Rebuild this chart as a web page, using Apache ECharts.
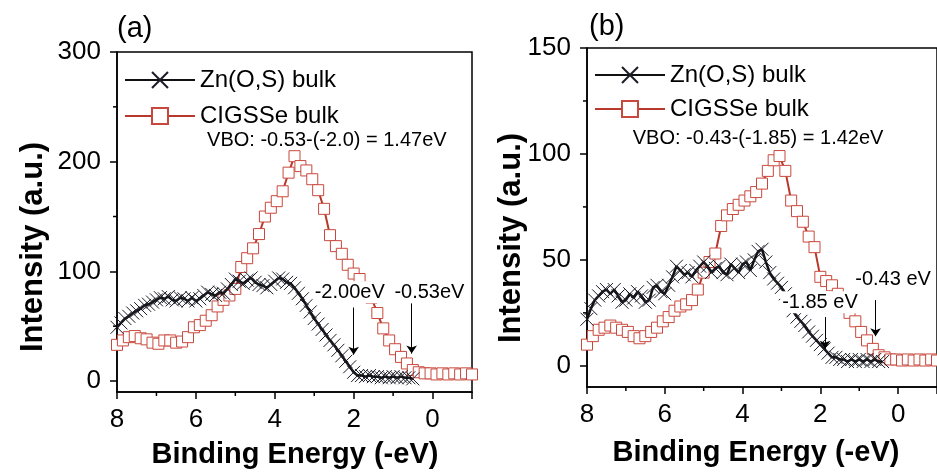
<!DOCTYPE html>
<html><head><meta charset="utf-8">
<script src="https://cdn.jsdelivr.net/npm/echarts@6/dist/echarts.min.js"></script>
<style>html,body{margin:0;padding:0;background:#fff}#c{width:937px;height:472px}</style>
</head><body><div id="c"></div>
<script>
// ---- data ----
const xTickLabels = [8, 6, 4, 2, 0];
const xMajorTicks = [8, 6, 4, 2, 0, -1];
const xMinorTicks = [7, 5, 3, 1];
const yTicksA = [0, 100, 200, 300];
const yMinorA = [50, 150, 250];
const yTicksB = [0, 50, 100, 150];
const yMinorB = [25, 75, 125];

const eZnA = [8.0,7.9,7.8,7.7,7.6,7.5,7.4,7.3,7.2,7.1,7.0,6.9,6.8,6.7,6.6,6.5,6.4,6.3,6.2,6.1,6.0,5.9,5.8,5.7,5.6,5.5,5.4,5.3,5.2,5.1,5.0,4.9,4.8,4.7,4.6,4.5,4.4,4.3,4.2,4.1,4.0,3.9,3.8,3.7,3.6,3.5,3.4,3.3,3.2,3.1,3.0,2.9,2.8,2.7,2.6,2.5,2.4,2.3,2.2,2.1,2.0,1.9,1.8,1.7,1.6,1.5,1.4,1.3,1.2,1.1,1.0,0.9,0.8,0.7,0.6,0.5];
const znA = [49,53,57,59,62,64,66,69,70,72, 74,76,75,77,74,73,76,75,73,76, 73,75,78,81,79,78,81,80,84,88, 93,91,89,92,94,90,88,87,85,88, 91,94,93,90,89,85,80,75,69,63, 57,52,47,42,37,33,28,23,18,13, 8,5,5,4,5,4,4,3,4,3, 4,3,4,3,3,2];

const eCigs = [8.0,7.85,7.7,7.55,7.4,7.25,7.1,6.95,6.8,6.65,6.5,6.35,6.2,6.05,5.9,5.75,5.6,5.45,5.3,5.15,5.0,4.85,4.7,4.55,4.4,4.25,4.1,3.95,3.8,3.65,3.5,3.35,3.2,3.05,2.9,2.75,2.6,2.45,2.3,2.15,2.0,1.85,1.7,1.55,1.4,1.25,1.1,0.95,0.8,0.65,0.5,0.35,0.2,0.05,-0.1,-0.25,-0.4,-0.55,-0.7,-0.85,-1.0];
const cigsA = [33,37,40,41,39,38,35,34,37,37, 35,36,40,49,51,55,60,68,74,78, 84,104,112,121,134,150,158,164,173,190, 205,196,192,184,174,157,133,123,116,106, 98,93,85,76,62,48,37,29,22,16, 10,8,7,7,6,7,6,7,6,7, 6];

const eZnB = [8.0,7.9,7.8,7.7,7.6,7.5,7.4,7.3,7.2,7.1,7.0,6.9,6.8,6.7,6.6,6.5,6.4,6.3,6.2,6.1,6.0,5.9,5.8,5.7,5.6,5.5,5.4,5.3,5.2,5.1,5.0,4.9,4.8,4.7,4.6,4.5,4.4,4.3,4.2,4.1,4.0,3.9,3.8,3.7,3.6,3.5,3.4,3.3,3.2,3.1,3.0,2.9,2.8,2.7,2.6,2.5,2.4,2.3,2.2,2.1,2.0,1.9,1.8,1.7,1.6,1.5,1.4,1.3,1.2,1.1,1.0,0.9,0.8,0.7,0.6,0.5,0.4];
const znB = [22,27,31,33,35,36,34,36,33,30, 31,34,32,35,33,30,31,37,38,35, 34,38,42,47,45,43,44,42,45,47, 49,47,44,46,47,44,43,48,46,44, 48,49,45,50,54,55,49,44,41,39, 37,34,30,26,23,21,19,16,14,12, 10,8,6,4,4,3,3,2,3,2, 3,2,3,2,3,2,2];
const cigsB = [10,14,17,18,19,18,17,16,14,13, 14,16,18,21,23,26,28,29,31,36, 44,49,53,66,71,74,76,78,80,82, 86,92,97,99,92,78,73,68,61,56, 42,40,38,34,30,25,21,16,12,8, 5,4,3,3,2.5,3,2.5,3,2.5,3, 2.5];

const seriesNames = ['Zn(O,S) bulk', 'CIGSSe bulk'];
const vboA = 'VBO: -0.53-(-2.0) = 1.47eV';
const vboB = 'VBO: -0.43-(-1.85) = 1.42eV';

// ---- chart ----
const FONT = '"Liberation Sans", Arial, sans-serif';
const zip = (xs, ys) => xs.map((x, i) => [x, ys[i]]);
const XSYM = 'path://M0,0L10,10M10,0L0,10';
const AXLINE = { show: true, onZero: false, lineStyle: { color: '#000', width: 1.5 } };
const X_MIN = -1, X_MAX = 8, Y_MIN = -10;

function mainX(grid) {
  return {
    type: 'value', gridIndex: grid, inverse: true, min: X_MIN, max: X_MAX, position: 'bottom',
    axisLine: AXLINE,
    axisTick: { show: true, inside: false, length: 7, customValues: xMajorTicks, lineStyle: { color: '#000', width: 1.5 } },
    axisLabel: { customValues: xTickLabels, fontSize: 26, color: '#000', fontFamily: FONT, margin: 15 },
    splitLine: { show: false }
  };
}
function mainY(grid, max, ticks) {
  return {
    type: 'value', gridIndex: grid, min: Y_MIN, max: max, position: 'left',
    axisLine: AXLINE,
    axisTick: { show: true, inside: false, length: 7, customValues: ticks, lineStyle: { color: '#000', width: 1.5 } },
    axisLabel: { customValues: ticks, fontSize: 26, color: '#000', fontFamily: FONT, margin: 16 },
    splitLine: { show: false }
  };
}
// minor ticks drawn through the axis scales
function minorTicks(idx, values, isX) {
  return {
    type: 'custom', xAxisIndex: idx, yAxisIndex: idx, silent: true, clip: false, animation: false, z: 10,
    data: values.map(v => isX ? [v, Y_MIN] : [X_MAX, v]),
    renderItem: function (params, api) {
      const p = api.coord([api.value(0), api.value(1)]);
      return {
        type: 'line',
        shape: isX ? { x1: p[0], y1: p[1], x2: p[0], y2: p[1] + 4 } : { x1: p[0], y1: p[1], x2: p[0] - 4, y2: p[1] },
        style: { stroke: '#000', lineWidth: 1.5 }
      };
    }
  };
}

const redLine = '#b8382c', redBox = '#c9483d', blk = '#111';
function cigsSeries(idx, data) {
  return {
    name: seriesNames[1], type: 'line', xAxisIndex: idx, yAxisIndex: idx, data: data,
    symbol: 'rect', symbolSize: 11, showAllSymbol: true, animation: false,
    lineStyle: { color: redLine, width: 2 },
    itemStyle: { color: '#fff', borderColor: redBox, borderWidth: 1 },
    z: 2
  };
}
function znSeries(idx, data, marks, arrows) {
  return {
    name: seriesNames[0], type: 'line', xAxisIndex: idx, yAxisIndex: idx, data: data,
    symbol: XSYM, symbolSize: 13, showAllSymbol: true, animation: false,
    lineStyle: { color: blk, width: 2.5 },
    itemStyle: { color: 'none', borderColor: '#1c1c28', borderWidth: 1 },
    z: 3,
    markLine: {
      silent: true, animation: false, symbol: ['none', 'arrow'], symbolSize: 8,
      label: { show: false },
      lineStyle: { color: '#000', width: 1, type: 'solid' },
      data: arrows.map(a => [{ coord: [a[0], a[1]] }, { coord: [a[0], a[2]] }])
    },
    markPoint: {
      silent: true, animation: false, symbol: 'circle', symbolSize: 0,
      data: marks.map(m => ({
        name: m[0], coord: [m[1], m[2]],
        label: {
          show: true, position: 'inside', formatter: '{b}', color: '#000',
          fontSize: m[3], fontFamily: FONT,
          backgroundColor: m[4] ? '#fff' : 'transparent', padding: [1, 2]
        }
      }))
    }
  };
}

const option = {
  backgroundColor: '#fff',
  animation: false,
  grid: [
    { left: 117, top: 52, width: 355, height: 340, show: true, borderColor: '#000', borderWidth: 1.5, backgroundColor: 'transparent' },
    { left: 587, top: 48, width: 355, height: 339, show: true, borderColor: '#000', borderWidth: 1.5, backgroundColor: 'transparent' }
  ],
  xAxis: [mainX(0), mainX(1)],
  yAxis: [mainY(0, 300, yTicksA), mainY(1, 150, yTicksB)],
  legend: [
    { data: seriesNames, orient: 'vertical', left: 119, top: 63, itemWidth: 70, itemHeight: 20, itemGap: 12,
      textStyle: { fontSize: 24, color: '#000', fontFamily: FONT }, selectedMode: false },
    { data: seriesNames, orient: 'vertical', left: 589, top: 58, itemWidth: 70, itemHeight: 20, itemGap: 10,
      textStyle: { fontSize: 24, color: '#000', fontFamily: FONT }, selectedMode: false }
  ],
  graphic: [
    { type: 'text', x: 117, y: 29, style: { text: '(a)', font: '29px ' + FONT, fill: '#000', textVerticalAlign: 'middle' } },
    { type: 'text', x: 589, y: 27, style: { text: '(b)', font: '29px ' + FONT, fill: '#000', textVerticalAlign: 'middle' } },
    { type: 'text', x: 295, y: 455, style: { text: 'Binding Energy (-eV)', font: 'bold 29px ' + FONT, fill: '#000', textAlign: 'center', textVerticalAlign: 'middle' } },
    { type: 'text', x: 756, y: 453, style: { text: 'Binding Energy (-eV)', font: 'bold 29px ' + FONT, fill: '#000', textAlign: 'center', textVerticalAlign: 'middle' } },
    { type: 'text', x: 33, y: 247, rotation: Math.PI / 2, style: { text: 'Intensity (a.u.)', font: 'bold 31px ' + FONT, fill: '#000', textAlign: 'center', textVerticalAlign: 'middle' } },
    { type: 'text', x: 511, y: 238, rotation: Math.PI / 2, style: { text: 'Intensity (a.u.)', font: 'bold 31px ' + FONT, fill: '#000', textAlign: 'center', textVerticalAlign: 'middle' } }
  ],
  series: [
    cigsSeries(0, zip(eCigs, cigsA)),
    znSeries(0, zip(eZnA, znA),
      [['-2.00eV', 2.1, 81, 20, true], ['-0.53eV', 0.08, 81, 20, true], [vboA, 2.68, 219, 20, false]],
      [[2.0, 67, 24], [0.53, 71, 25]]),
    cigsSeries(1, zip(eCigs, cigsB)),
    znSeries(1, zip(eZnB, znB),
      [['-1.85 eV', 2.01, 30, 20, true], ['-0.43 eV', 0.13, 40.6, 20, true], [vboB, 3.6, 107.5, 20, false]],
      [[1.88, 23, 8], [0.58, 31, 14]]),
    minorTicks(0, xMinorTicks, true),
    minorTicks(0, yMinorA, false),
    minorTicks(1, xMinorTicks, true),
    minorTicks(1, yMinorB, false)
  ]
};
const chart = echarts.init(document.getElementById('c'), null, { renderer: 'canvas' });
chart.setOption(option);
</script>
</body></html>
